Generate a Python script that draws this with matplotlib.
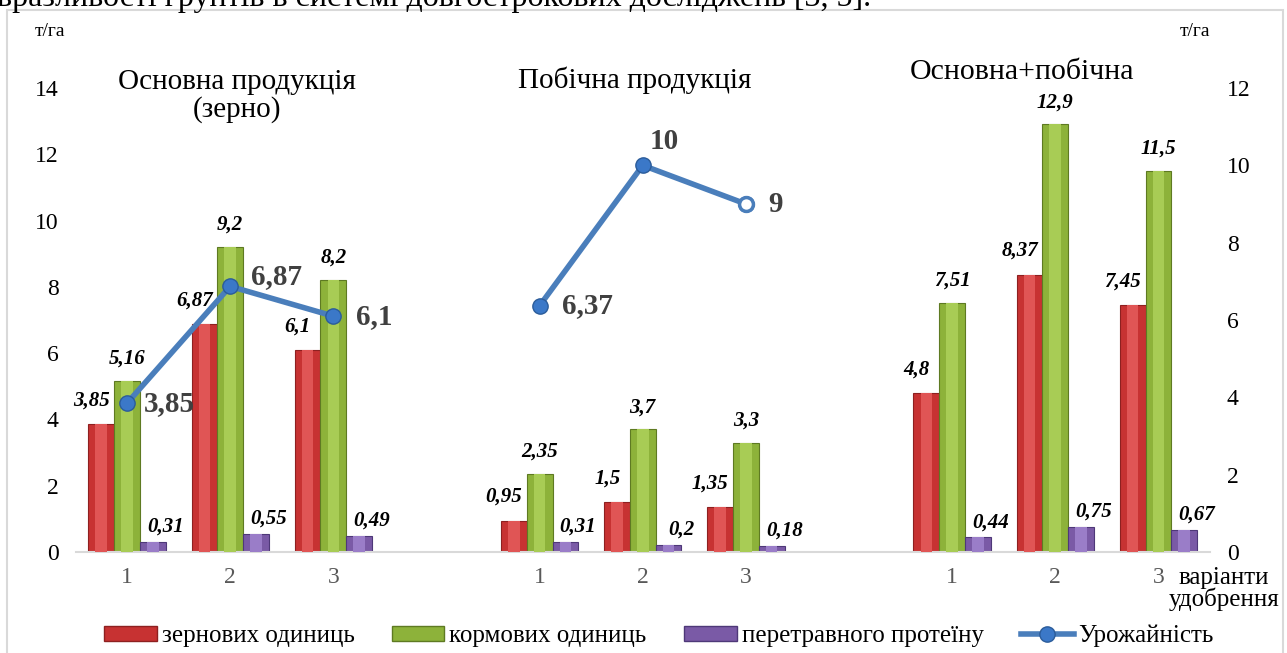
import matplotlib.pyplot as plt
from matplotlib.patches import Patch, Rectangle
from matplotlib.lines import Line2D

plt.rcParams['font.family'] = ['Liberation Serif', 'DejaVu Serif']

# дані
groups = ["Основна продукція\n(зерно)", "Побічна продукція", "Основна+побічна"]
variants = ["1", "2", "3"]
zernovi = [3.85, 6.87, 6.1, 0.95, 1.5, 1.35, 4.8, 8.37, 7.45]
kormovi = [5.16, 9.2, 8.2, 2.35, 3.7, 3.3, 7.51, 12.9, 11.5]
protein = [0.31, 0.55, 0.49, 0.31, 0.2, 0.18, 0.44, 0.75, 0.67]
urozh_osn = [3.85, 6.87, 6.1]
urozh_pob = [6.37, 10, 9]

W, H = 1287, 653
fig = plt.figure(figsize=(W / 100, H / 100), dpi=100)
ax = fig.add_axes([75.5 / W, 1 - 552 / H, (1210 - 75.5) / W, (552 - 88) / H])
ax2 = ax.twinx()

# позиції: 3 групи по 3 варіанти, з пропуском між групами
pos = [g * 4 + v for g in range(len(groups)) for v in range(len(variants))]

def fmt(v):
    return f"{v:g}".replace(".", ",")

bw = 0.25
serii = [
    (zernovi, -bw, "#C73232", "#E05555", "#8E2020", (-7, 17)),
    (kormovi, 0, "#8DB23A", "#A8CC55", "#5E7A22", (0, 16)),
    (protein, bw, "#7A5AA6", "#9A7DC8", "#4E3878", (9, 11)),
]
for vals, dx, c, light, dark, off in serii:
    xs = [p + dx for p in pos]
    ax.bar(xs, vals, width=bw, color=c, edgecolor=dark, linewidth=0.8, zorder=2)
    ax.bar(xs, vals, width=bw * 0.45, color=light, linewidth=0, zorder=3)
    for x, v in zip(xs, vals):
        ax.annotate(fmt(v), (x, v), xytext=off, textcoords="offset points",
                    ha="center", va="center", fontsize=15, fontweight="bold",
                    fontstyle="italic", color="black")

ax.set_xlim(-0.5, 10.5)
ax.set_ylim(0, 14)
ax.set_yticks(range(0, 15, 2))
ax2.set_ylim(0, 12)
ax2.set_yticks(range(0, 13, 2))
ax.set_xticks(pos)
ax.set_xticklabels(variants * len(groups))

for s in ax.spines.values():
    s.set_visible(False)
for s in ax2.spines.values():
    s.set_visible(False)
ax.spines["bottom"].set_visible(True)
ax.spines["bottom"].set_color("#D9D9D9")
ax.spines["bottom"].set_linewidth(1.5)

ax.tick_params(axis="y", length=0, pad=12, labelsize=17)
ax.tick_params(axis="x", length=0, pad=11, labelsize=17, labelcolor="#595959")
ax2.tick_params(axis="y", length=0, pad=12, labelsize=17)

# урожайність (права вісь)
lc = "#4A7EBB"
mk = dict(marker="o", markersize=11, markerfacecolor="#3B78C8",
          markeredgecolor="#2B5C9A", markeredgewidth=1)
ax2.plot(pos[0:3], urozh_osn, color=lc, lw=4, **mk, zorder=5)
ax2.plot(pos[3:6], urozh_pob, color=lc, lw=4, **mk, zorder=5)
ax2.plot(pos[5], urozh_pob[-1], marker="o", markersize=10, markerfacecolor="white",
         markeredgecolor=lc, markeredgewidth=2.5, zorder=6)

lab_off = [(12, 0), (15, 7), (16, 0), (16, 0), (5, 17), (16, 0)]
for x, v, off in zip(pos[0:6], urozh_osn + urozh_pob, lab_off):
    ax2.annotate(fmt(v), (x, v), xytext=off, textcoords="offset points",
                 ha="left", va="center", fontsize=21, fontweight="bold",
                 color="#404040")

# підписи груп
fig.text(237 / W, 1 - 96 / H, groups[0], ha="center", va="center", fontsize=21,
         linespacing=1.1)
fig.text(635 / W, 1 - 80 / H, groups[1], ha="center", va="center", fontsize=21)
fig.text(1022 / W, 1 - 72 / H, groups[2], ha="center", va="center", fontsize=21.5)

fig.text(35 / W, 1 - 31 / H, "т/га", ha="left", va="center", fontsize=14)
fig.text(1180 / W, 1 - 31 / H, "т/га", ha="left", va="center", fontsize=14)
fig.text(1224 / W, 1 - 589 / H, "варіанти\nудобрення", ha="center", va="center",
         fontsize=18, linespacing=0.95)

# легенда
handles = [
    Patch(facecolor="#C73232", edgecolor="#8E2020"),
    Patch(facecolor="#8DB23A", edgecolor="#5E7A22"),
    Patch(facecolor="#7A5AA6", edgecolor="#4E3878"),
    Line2D([], [], color=lc, lw=4, **mk),
]
labels = ["зернових одиниць", "кормових одиниць", "перетравного протеїну", "Урожайність"]
fig.legend(handles, labels, loc="center", bbox_to_anchor=(659 / W, 1 - 636 / H),
           ncol=4, frameon=False, fontsize=18, handlelength=2.1, handleheight=0.5,
           handletextpad=0.2, columnspacing=1.5, borderpad=0, borderaxespad=0)

# рамка діаграми
fig.add_artist(Rectangle((7 / W, -0.01), (1283 - 7) / W, 1 - 10 / H + 0.01,
                         transform=fig.transFigure, fill=False,
                         edgecolor="#D9D9D9", lw=1.5))

# обрізаний рядок тексту над діаграмою
fig.text(-0.002, 1 - 6 / H, "вразливості грунтів в системі довгострокових досліджень [3, 5].",
         ha="left", va="baseline", fontsize=23)

fig.savefig("out.png", dpi=100)
